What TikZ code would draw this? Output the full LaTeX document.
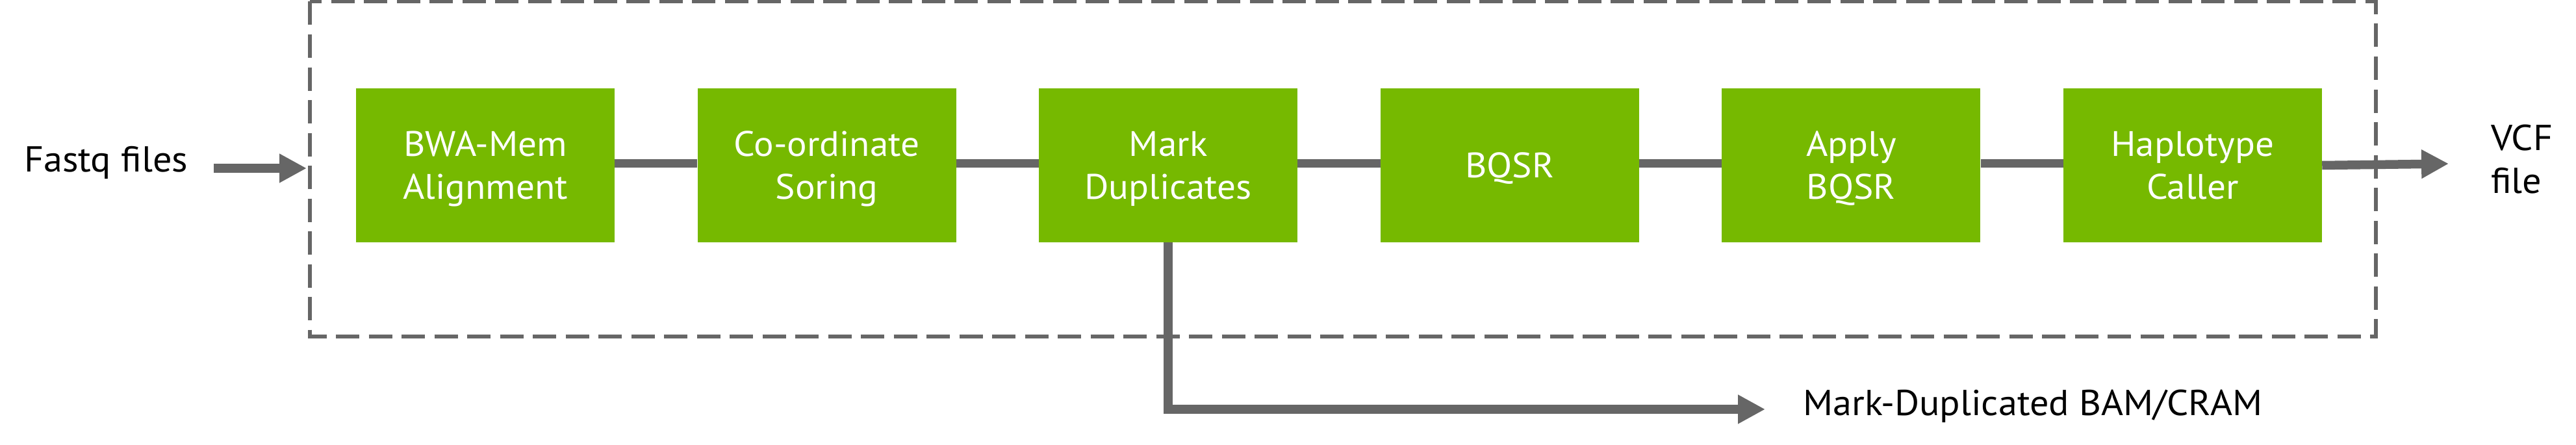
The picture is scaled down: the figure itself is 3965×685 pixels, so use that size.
\documentclass[tikz,border=0pt]{standalone}
\usepackage{fontspec}
\setmainfont[FakeStretch=1.05]{PT Sans}
\usetikzlibrary{arrows.meta}
\definecolor{nvgreen}{RGB}{118,185,0}
\definecolor{lgray}{RGB}{102,102,102}
\begin{document}
\begin{tikzpicture}[x=1pt,y=-1pt,
  stage/.style={fill=nvgreen,text=white,align=center,inner sep=0pt,
    minimum width=398pt,minimum height=237pt,text depth=0pt,
    font=\fontsize{54.5}{66}\selectfont},
  lbl/.style={text=black,inner sep=0pt,align=left,font=\fontsize{55.5}{66}\selectfont},
  conn/.style={draw=lgray,line width=13.5pt},
  flow/.style={draw=lgray,line width=13.5pt,line join=miter,
    -{Triangle[length=42pt,width=42pt]}},
  frame/.style={draw=lgray,line width=5.5pt,dash pattern=on 36pt off 14.5pt}]
\useasboundingbox (0,0) rectangle (3965,685);
\fill[white] (0,0) rectangle (3965,685);

\draw[frame] (477,2.5) rectangle (3657,518);

\node[stage] (bwa) at (747,254.5) {BWA-Mem\\Alignment};
\node[stage] (sort) at (1272.6,254.5) {Co-ordinate\\Soring};
\node[stage] (md) at (1798.2,254.5) {Mark\\Duplicates};
\node[stage] (bqsr) at (2323.8,254.5) {BQSR};
\node[stage] (apply) at (2849.4,254.5) {Apply\\BQSR};
\node[stage] (hc) at (3375,254.5) {Haplotype\\Caller};

\node[lbl,anchor=base west] (fastq) at (37,264) {Fastq files};
\node[lbl,anchor=north west] (vcf) at (3834,192) {VCF\\file};
\node[lbl,anchor=base west] (bam) at (2775,639) {Mark-Duplicated BAM/CRAM};

\coordinate (fin) at (329,259);
\coordinate (fend) at (472,259);
\coordinate (vcfin) at (3769,252);
\coordinate (bamin) at (2717,630);

\draw[flow] (fin) -- (fend);
\draw[conn] ([yshift=3pt]bwa.east) -- ([yshift=3pt]sort.west);
\draw[conn] ([yshift=3pt]sort.east) -- ([yshift=3pt]md.west);
\draw[conn] ([yshift=3pt]md.east) -- ([yshift=3pt]bqsr.west);
\draw[conn] ([yshift=3pt]bqsr.east) -- ([yshift=3pt]apply.west);
\draw[conn] ([yshift=3pt]apply.east) -- ([yshift=3pt]hc.west);
\draw[flow] (hc.east) -- (vcfin);
\draw[flow] (md.south) |- (bamin);
\end{tikzpicture}
\end{document}
